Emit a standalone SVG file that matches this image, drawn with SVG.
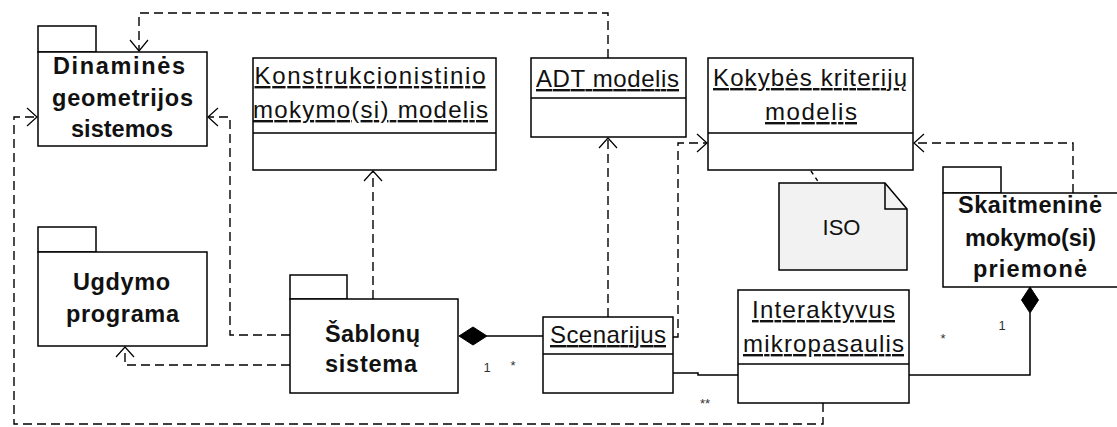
<svg xmlns="http://www.w3.org/2000/svg" width="1117" height="427" viewBox="0 0 1117 427">
<style>
  .box{fill:#fff;stroke:#000;stroke-width:1.5}
  .ln{fill:none;stroke:#000;stroke-width:1.5}
  .dash{fill:none;stroke:#000;stroke-width:1.4;stroke-dasharray:9 5}
  .sol{fill:none;stroke:#000;stroke-width:1.5}
  .arr{fill:none;stroke:#000;stroke-width:1.2}
  .dia{fill:#000;stroke:#000;stroke-width:1}
  text{font-family:"Liberation Sans",Arial,sans-serif;fill:#111;text-anchor:middle}
  .b{font-weight:bold;font-size:23.5px}
  .r{font-size:24px}
  .u{text-decoration:underline}
  .m{font-size:13px;fill:#333}
</style>
<rect width="1117" height="427" fill="#fff"/>

<g id="connectors">
  <!-- ADT -> Dinamines -->
  <polyline class="dash" points="608,58 608,13 139,13 139,51"/>
  <polyline class="arr" points="130,40 139,51 148,40"/>
  <!-- Interaktyvus -> Dinamines -->
  <polyline class="dash" points="823,403 823,424 14,424 14,117 37,117"/>
  <polyline class="arr" points="27,108 37,117 27,126"/>
  <!-- Sablonu -> Dinamines -->
  <polyline class="dash" points="290,335 230,335 230,117 208,117"/>
  <polyline class="arr" points="218,108 208,117 218,126"/>
  <!-- Sablonu -> Ugdymo -->
  <polyline class="dash" points="290,365 125,365 125,347"/>
  <polyline class="arr" points="116,357 125,347 134,357"/>
  <!-- Sablonu -> Konstrukcionistinio -->
  <polyline class="dash" points="373,299 373,171"/>
  <polyline class="arr" points="364,181 373,171 382,181"/>
  <!-- Scenarijus -> ADT -->
  <polyline class="dash" points="608,317 608,138"/>
  <polyline class="arr" points="599,148 608,138 617,148"/>
  <!-- Scenarijus -> Kokybes -->
  <polyline class="dash" points="673,337 678,337 678,143 707,143"/>
  <polyline class="arr" points="697,134 707,143 697,152"/>
  <!-- Skaitmenine -> Kokybes -->
  <polyline class="dash" points="1073,193 1073,143 914,143"/>
  <polyline class="arr" points="924,134 914,143 924,152"/>
  <!-- ISO anchor -->
  <line class="dash" x1="811" y1="171" x2="819" y2="183" style="stroke-dasharray:4 4"/>
  <!-- Sablonu <>- Scenarijus -->
  <polyline class="sol" points="487,336 543,336"/>
  <polygon class="dia" points="459,336 473,327 487,336 473,345"/>
  <text class="m" x="487" y="372">1</text>
  <text class="m" x="513" y="370">*</text>
  <!-- Scenarijus - Interaktyvus -->
  <polyline class="sol" points="673,373 698,373 698,375 738,375"/>
  <text class="m" x="705" y="408">**</text>
  <!-- Skaitmenine <>- Interaktyvus -->
  <polyline class="sol" points="1030,313 1030,375 909,375"/>
  <polygon class="dia" points="1030,287 1038.5,300 1030,313 1021.5,300"/>
  <text class="m" x="1002" y="330">1</text>
  <text class="m" x="943" y="343">*</text>
</g>

<g id="dinamines">
  <rect class="box" x="38" y="26" width="58" height="26"/>
  <rect class="box" x="38" y="52" width="169" height="94"/>
  <text class="b" x="119" y="74" textLength="132">Dinaminės</text>
  <text class="b" x="122.5" y="106" textLength="141">geometrijos</text>
  <text class="b" x="122" y="137" textLength="102">sistemos</text>
</g>

<g id="ugdymo">
  <rect class="box" x="38" y="227" width="58" height="25"/>
  <rect class="box" x="38" y="252" width="169" height="94"/>
  <text class="b" x="121.5" y="290" textLength="97">Ugdymo</text>
  <text class="b" x="122.5" y="322" textLength="113">programa</text>
</g>

<g id="sablonu">
  <rect class="box" x="290" y="275" width="57" height="24"/>
  <rect class="box" x="290" y="299" width="168" height="94"/>
  <text class="b" x="372.5" y="342" textLength="95">Šablonų</text>
  <text class="b" x="371" y="372" textLength="92">sistema</text>
</g>

<g id="konstrukcionistinio">
  <rect class="box" x="253" y="58" width="243" height="112"/>
  <line class="ln" x1="253" y1="133" x2="496" y2="133"/>
  <text class="r u" x="370" y="84" textLength="231">Konstrukcionistinio</text>
  <text class="r u" x="370.5" y="118" textLength="235">mokymo(si) modelis</text>
</g>

<g id="adt">
  <rect class="box" x="531" y="58" width="155" height="79"/>
  <line class="ln" x1="531" y1="98" x2="686" y2="98"/>
  <text class="r u" x="607.5" y="87" textLength="143">ADT modelis</text>
</g>

<g id="kokybes">
  <rect class="box" x="708" y="58" width="205" height="112"/>
  <line class="ln" x1="708" y1="133" x2="913" y2="133"/>
  <text class="r u" x="810" y="86" textLength="194">Kokybės kriterijų</text>
  <text class="r u" x="811" y="120" textLength="92">modelis</text>
</g>

<g id="iso">
  <path d="M779,183 L885,183 L907,209 L907,270 L779,270 Z" fill="#f2f2f2" stroke="#000" stroke-width="1.5"/>
  <polyline class="ln" points="885,183 885,209 907,209"/>
  <text class="r" x="841.5" y="235" style="font-size:22px">ISO</text>
</g>

<g id="skaitmenine">
  <rect class="box" x="943" y="167" width="58" height="26"/>
  <rect class="box" x="943" y="193" width="190" height="94"/>
  <text class="b" x="1030" y="213" textLength="144">Skaitmeninė</text>
  <text class="b" x="1030.5" y="246" textLength="131">mokymo(si)</text>
  <text class="b" x="1030" y="277" textLength="114">priemonė</text>
</g>

<g id="scenarijus">
  <rect class="box" x="543" y="317" width="130" height="76"/>
  <line class="ln" x1="543" y1="354" x2="673" y2="354"/>
  <text class="r u" x="608" y="343" textLength="116">Scenarijus</text>
</g>

<g id="interaktyvus">
  <rect class="box" x="738" y="290" width="171" height="113"/>
  <line class="ln" x1="738" y1="364" x2="909" y2="364"/>
  <text class="r u" x="823.5" y="318" textLength="143">Interaktyvus</text>
  <text class="r u" x="823.5" y="352" textLength="161">mikropasaulis</text>
</g>
</svg>
